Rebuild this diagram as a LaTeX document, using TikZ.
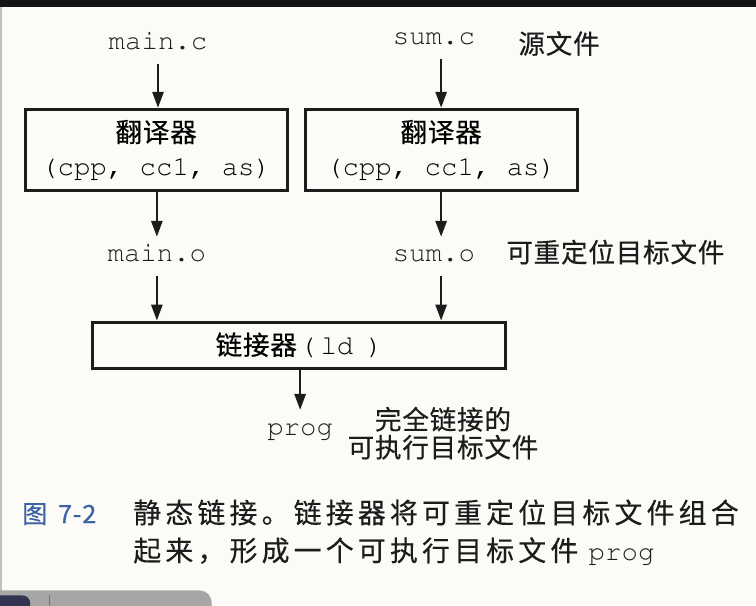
\documentclass[tikz,border=0pt]{standalone}
\usepackage{fontspec}
\usepackage{xcolor}
\usepackage{tikz}
\usetikzlibrary{arrows.meta}
\setmonofont{Liberation Mono}
\newfontfamily\cjk[LetterSpace=3,FakeBold=0.4]{Noto Sans CJK SC}
\newfontfamily\capcjk[LetterSpace=15,FakeBold=0.3]{Noto Sans CJK SC}
\definecolor{paper}{HTML}{FCFBF7}
\definecolor{ink}{HTML}{1C1C1C}
\definecolor{capblue}{HTML}{3B62A6}
\newcommand{\codefont}{\fontencoding{T1}\fontfamily{pcr}\fontsize{20.6}{24}\selectfont}
\newcommand{\zhfont}{\fontsize{20}{21}\cjk}

\begin{document}
\begin{tikzpicture}[
 code/.style={font=\codefont,text=ink,anchor=base,inner xsep=1pt,inner ysep=6pt,text height=12.8pt,text depth=4.1pt},
 zh/.style={font=\zhfont,text=ink,inner sep=0pt},
 stage/.style={draw=ink,line width=2.3pt,fill=paper,align=center,inner sep=0pt,font=\fontsize{20}{25}\selectfont},
 arr/.style={-{Triangle[length=12pt,width=8.5pt]},line width=1.5pt,draw=ink}]
\useasboundingbox (0,0) rectangle (20,-16.03);
\fill[paper] (0,0) rectangle (20,-16.03);
\fill[black!92] (0,0) rectangle (20,-0.185);
\draw[black!25,line width=1.2pt] (0.02,-0.185) -- (0.02,-16.03);
\fill[black!35,rounded corners=9pt] (-0.5,-15.62) rectangle (5.6,-16.6);
\fill[black!80!blue!60!gray,rounded corners=6pt] (-0.5,-15.75) rectangle (0.8,-16.6);
\draw[black!55,line width=0.8pt] (1.3,-15.75) -- (1.3,-16.03);
\node[code] (mainc) at (4.18,-1.32) {main.c};
\node[code] (sumc) at (11.48,-1.19) {sum.c};
\node[zh] (src) at (14.79,-1.15) {源文件};
\node[stage,minimum width=6.93cm,minimum height=2.14cm] (tr1) at (4.13,-3.96)
 {{\zhfont 翻译器}\\{\codefont (cpp, cc1, as)}};
\node[stage,minimum width=7.20cm,minimum height=2.14cm] (tr2) at (11.67,-3.96)
 {{\zhfont 翻译器}\\{\codefont (cpp, cc1, as)}};
\node[code] (maino) at (4.15,-6.93) {main.o};
\node[code] (sumo) at (11.48,-6.93) {sum.o};
\node[zh] (reloc) at (16.28,-6.67) {可重定位目标文件};
\node[stage,minimum width=10.93cm,minimum height=1.22cm] (ld) at (7.92,-9.13)
 {{\zhfont 链接器}\hspace{2pt}{\codefont(\hspace{3.4pt}ld\hspace{10pt})}};
\node[code] (prog) at (7.94,-11.51) {prog};
\node[zh,align=center,font=\fontsize{20}{21}\cjk] (exec) at (11.72,-11.46) {完全链接的\\可执行目标文件};
\draw[arr] (mainc) -- (mainc |- tr1.north);
\draw[arr] (sumc.south -| tr2) -- (tr2.north);
\draw[arr] (tr1.south -| maino) -- (maino);
\draw[arr] (tr2.south) -- (tr2 |- sumo.north);
\draw[arr] (maino) -- (maino |- ld.north);
\draw[arr] (tr2 |- sumo.south) -- (tr2 |- ld.north);
\draw[arr] (ld.south -| prog) -- (prog);
\node[anchor=base west,font=\fontsize{19}{21}\cjk,text=capblue,inner sep=0pt] (fignum) at (0.58,-13.84) {图\hspace{8pt}7-2};
\node[anchor=base west,font=\fontsize{21}{28}\capcjk,text=ink,inner sep=0pt] (cap1) at (3.52,-13.84)
 {静态链接。链接器将可重定位目标文件组合};
\node[anchor=base west,font=\fontsize{21}{28}\capcjk,text=ink,inner sep=0pt] (cap2) at (3.52,-14.84)
 {起来，形成一个可执行目标文件 {\codefont prog}};
\end{tikzpicture}
\end{document}
